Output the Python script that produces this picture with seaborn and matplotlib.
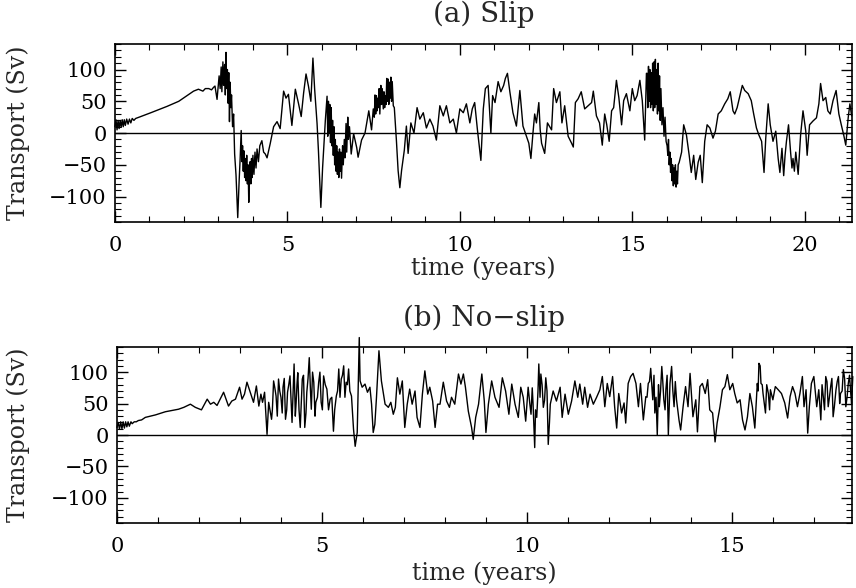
import numpy as np
import pandas as pd
import matplotlib
matplotlib.use("Agg")
import matplotlib.pyplot as plt
import seaborn as sns
from matplotlib.ticker import MultipleLocator

# ---- (a) Slip : values ----
slip_t = [0.00, 0.03, 0.06, 0.09, 0.12, 0.15, 0.18, 0.21, 0.24, 0.27, 0.30, 0.34, 0.38, 0.42,
          0.46, 0.50, 0.55, 0.60, 0.70, 1.04, 1.51, 1.85, 2.28, 2.42, 2.55, 2.62, 2.72, 2.80,
          2.86, 2.90, 2.96, 3.02, 3.05, 3.08, 3.10, 3.13, 3.15, 3.18, 3.20, 3.22, 3.24, 3.26,
          3.28, 3.30, 3.32, 3.34, 3.36, 3.38, 3.41, 3.44, 3.47, 3.51, 3.56, 3.60, 3.63, 3.66,
          4.26, 4.31, 4.36, 4.41, 4.50, 4.60, 4.70, 4.79, 4.89, 4.96, 5.03, 5.13, 5.23,
          5.32, 5.40, 5.47, 5.54, 5.61, 5.68, 5.74, 5.79, 5.86, 5.90, 5.97, 6.02, 6.10,
          6.85, 6.92, 7.01, 7.05, 7.15, 7.25, 7.36, 7.44,
          8.16, 8.21, 8.26, 8.31, 8.39, 8.45, 8.50, 8.58, 8.67, 8.76, 8.84, 8.94, 9.03, 9.13, 9.22,
          9.32, 9.42, 9.52, 9.61, 9.71, 9.81, 9.90, 10.00, 10.10, 10.19, 10.29, 10.36, 10.43,
          10.51, 10.61, 10.68, 10.74, 10.82, 10.90, 10.95, 11.02, 11.11, 11.19, 11.27, 11.32,
          11.38, 11.45, 11.54, 11.64, 11.74, 11.83, 11.93, 12.00, 12.06, 12.12, 12.17, 12.22,
          12.29, 12.33, 12.37, 12.46, 12.54, 12.66, 12.72, 12.80, 12.90, 12.96, 13.04, 13.14,
          13.24, 13.29, 13.35, 13.43, 13.52, 13.62, 13.72, 13.82, 13.87, 13.96, 14.05, 14.13,
          14.20, 14.26, 14.33, 14.40, 14.46, 14.54, 14.61, 14.69, 14.75, 14.83, 14.93, 15.00,
          15.07, 15.14, 15.22, 15.29, 15.36, 15.41,
          16.43, 16.49, 16.57, 16.65, 16.71, 16.78, 16.84,
          16.91, 16.97, 17.03, 17.10, 17.17, 17.25, 17.34, 17.41, 17.49, 17.58, 17.68, 17.77,
          17.84, 17.92, 17.97, 18.04, 18.11, 18.19, 18.26, 18.36, 18.45, 18.52, 18.60, 18.67,
          18.75, 18.82, 18.87, 18.94, 19.00, 19.08, 19.16, 19.23, 19.28, 19.34, 19.39, 19.43,
          19.47, 19.53, 19.59, 19.63, 19.66, 19.70, 19.74, 19.81, 19.88, 19.95, 20.03, 20.07,
          20.14, 20.24, 20.34, 20.41, 20.46, 20.53, 20.61, 20.67, 20.74, 20.82, 20.91, 20.99,
          21.06, 21.13, 21.19, 21.26, 21.31, 21.36]
slip_v = [10, 21, 5, 20, 7, 20, 9, 21, 10, 21, 12, 22, 14, 22,
          16, 23, 20, 23, 25, 32, 42, 50, 66, 69, 66, 70, 70, 68,
          72, 74, 53, 90, 70, 104, 65, 112, 75, 108, 60, 127, 70, 100,
          47, 95, 18, 80, 40, 60, 10, 30, -33, -66, -133, -76, -40, 4,
          -12, -30, -33, -39, -17, 10, 18, 7, 66, 55, 61, 12, 69,
          47, 26, 63, 93, 74, 50, 118, 69, 15, -28, -117, -55, 20,
          -33, -1, -23, -38, -11, 0, 35, 5,
          -11, -59, -86, -59, -27, 11, -32, 16, 0, 40, 22, 32, 8, 22, 11,
          -11, 43, 27, 43, 16, 22, 0, 38, 32, 46, 16, 38, 48,
          5, -43, 38, 70, 75, 0, 59, 48, 81, 65, 75, 86,
          94, 65, 32, 11, 67, 11, -5, -16, -40, 0, 30, 16,
          48, 5, -16, -32, 16, 5, 70, 48, 65, 16, 43, -5,
          -16, -22, 48, 54, 65, 38, 43, 48, 66, 27, 16, -19,
          30, 13, -13, 35, 40, 83, 56, 13, 51, 62, 35, 70,
          51, 59, 83, 51, -11, 94,
          -30, 13, -3, -35, -62, -35, -73,
          -46, -35, -78, -13, 13, 8, -8, 3, 30, 35, 46, 54,
          65, 35, 30, 40, 56, 75, 67, 62, 51, 30, 8, -3,
          -13, -62, -8, 46, 13, -13, 3, -40, -62, -24, -67, -35,
          -13, 13, -30, -55, -40, -60, -30, -65, -3, 35, 3, -35,
          13, 19, 24, 46, 78, 51, 56, 35, 30, 51, 67, 30,
          13, -3, -19, 24, 46, 27]

# dense (fast-oscillation) stretches of (a), read at finer spacing
slip_band_t = [3.68, 3.70, 3.72, 3.74, 3.76, 3.78, 3.80, 3.82, 3.84, 3.86, 3.88, 3.90, 3.92,
               3.94, 3.96, 3.98, 4.00, 4.03, 4.06, 4.09, 4.12, 4.16, 4.20,
               6.15, 6.17, 6.19, 6.21, 6.23, 6.25, 6.27, 6.29, 6.31, 6.33, 6.35, 6.37, 6.39,
               6.41, 6.43, 6.45, 6.47, 6.49, 6.51, 6.53, 6.55, 6.57, 6.60, 6.62, 6.65, 6.67,
               6.70, 6.72, 6.75, 6.77, 6.80,
               7.49, 7.52, 7.54, 7.56, 7.58, 7.60, 7.62, 7.64, 7.66, 7.68, 7.71, 7.73, 7.75,
               7.78, 7.80, 7.82, 7.84, 7.86, 7.88, 7.90, 7.92, 7.94, 7.96, 7.98, 8.00, 8.02,
               8.04, 8.07, 8.10,
               15.43, 15.45, 15.47, 15.49, 15.51, 15.53, 15.55, 15.57, 15.59, 15.61, 15.63,
               15.65, 15.67, 15.69, 15.71, 15.73, 15.75, 15.77, 15.79, 15.81, 15.83, 15.86,
               15.89, 15.92, 15.95, 15.98, 16.01, 16.03, 16.05, 16.07, 16.09, 16.11, 16.13,
               16.15, 16.17, 16.19, 16.21, 16.23, 16.25, 16.27, 16.29, 16.31, 16.33, 16.36]
slip_band_v = [-45, -20, -60, -28, -70, -40, -75, -35, -80, -50, -109, -60, -45,
               -80, -40, -70, -35, -65, -30, -55, -25, -45, -20,
               58, -5, 50, 0, 45, -15, 40, -20, 20, -35, 10, -50, -10,
               -60, -20, -65, -30, -70, -25, -60, -30, -71, -20, -50, -10, -39,
               15, -30, 25, -10, 10,
               38, 25, 60, 30, 59, 35, 55, 40, 70, 30, 75, 45, 70,
               38, 65, 40, 59, 45, 86, 50, 85, 45, 80, 55, 88, 50,
               81, 43, 40,
               94, 40, 105, 50, 100, 40, 95, 45, 110, 35, 112,
               40, 116, 45, 100, 30, 110, 35, 90, 20, 70, 13,
               40, -5, 25, -13, -20, -35, -10, -50, -30, -62, -40,
               -75, -50, -83, -55, -80, -50, -85, -60, -80, -50, -46]

# ---- (b) No-slip : values ----
noslip_t = [0.00, 0.03, 0.06, 0.09, 0.12, 0.15, 0.18, 0.21, 0.24, 0.27, 0.30, 0.34, 0.37, 0.42,
            0.47, 0.52, 0.60, 0.69, 0.94, 1.18, 1.50, 1.63, 1.79, 1.91, 2.06, 2.20, 2.28, 2.36,
            2.44, 2.60, 2.72, 2.80, 2.89, 2.99, 3.05, 3.11, 3.17, 3.25, 3.33, 3.40, 3.46, 3.51,
            3.55, 3.60, 3.66, 3.70, 3.77, 3.82, 3.88, 3.94, 4.00, 4.05, 4.11, 4.16, 4.22, 4.27,
            4.32, 4.37, 4.41, 4.47, 4.52, 4.58, 4.63, 4.69, 4.74, 4.80, 4.85, 4.92, 4.98, 5.04,
            5.12, 5.20, 5.28, 5.35, 5.41, 5.47, 5.53, 5.59, 5.65, 5.72, 5.77, 5.81, 5.86, 5.91,
            5.93, 5.98, 6.05, 6.11, 6.17, 6.21, 6.25, 6.29, 6.33, 6.39, 6.45, 6.54, 6.62, 6.68,
            6.74, 6.79, 6.84, 6.90, 6.96, 7.02, 7.08, 7.14, 7.20, 7.27, 7.32, 7.39, 7.45, 7.51,
            7.58, 7.63, 7.70, 7.76, 7.82, 7.88, 7.96, 8.04, 8.11, 8.16, 8.24, 8.33, 8.39, 8.45,
            8.50, 8.57, 8.65, 8.69, 8.75, 8.82, 8.90, 8.96, 9.00, 9.06, 9.14, 9.22, 9.32, 9.40,
            9.48, 9.56, 9.63, 9.71, 9.79, 9.85, 9.91, 9.97, 10.03, 10.10, 10.15, 10.19, 10.24,
            10.29, 10.34, 10.40, 10.46, 10.52, 10.57, 10.64, 10.72, 10.81, 10.86, 10.93, 11.01,
            11.09, 11.17, 11.24, 11.29, 11.36, 11.41, 11.48, 11.54, 11.62, 11.70, 11.78, 11.84,
            11.90, 11.96, 12.02, 12.09, 12.14, 12.19, 12.24, 12.31, 12.37, 12.41, 12.47, 12.53,
            12.59, 12.66, 12.72, 12.77, 12.84, 12.90, 12.96, 13.02, 13.07, 13.12, 13.18, 13.23,
            13.29, 13.34, 13.39, 13.45, 13.49, 13.53, 13.59, 13.65, 13.71, 13.75, 13.81, 13.87,
            13.93, 13.98, 14.05, 14.12, 14.16, 14.22, 14.28, 14.35, 14.41, 14.46, 14.53, 14.59,
            14.64, 14.71, 14.77, 14.83, 14.89, 14.95, 15.02, 15.07, 15.13, 15.20, 15.26, 15.32,
            15.38, 15.44, 15.50, 15.56, 15.62, 15.66, 15.71, 15.76, 15.82, 15.89, 15.94, 16.00,
            16.06, 16.13, 16.21, 16.29, 16.36, 16.42, 16.48, 16.54, 16.60, 16.66, 16.72, 16.76,
            16.81, 16.85, 16.89, 16.94, 17.00, 17.07, 17.12, 17.17, 17.23, 17.29, 17.35, 17.41,
            17.47, 17.54, 17.60, 17.65, 17.72, 17.78, 17.84, 17.90, 17.95]
noslip_v = [12, 20, 9, 21, 10, 21, 11, 21, 13, 21, 14, 21, 18, 21,
            21, 23, 24, 28, 32, 37, 41, 44, 49, 44, 40, 57, 49, 52,
            47, 68, 46, 54, 57, 76, 57, 65, 84, 68, 52, 78, 46, 65,
            52, 68, 1, 52, 25, 86, 62, 89, 60, 76, 25, 68, 94, 20,
            113, 52, 99, 12, 89, 12, 68, 123, 41, 84, 52, 84, 52, 94,
            73, 57, 6, 62, 105, 89, 110, 84, 105, 62, 9, -18, 4, 155,
            86, 76, 81, 68, 76, 49, 4, 17, 60, 134, 86, 49, 44, 52,
            33, 44, 91, 65, 86, 12, 49, 73, 49, 70, 28, 12, 65, 102,
            65, 76, 54, 12, 49, 49, 84, 54, 44, 60, 49, 97, 81, 97,
            76, 38, 12, -7, 28, 49, 97, 54, 4, 49, 86, 60, 44, 91,
            70, 33, 81, 49, 28, 76, 60, 22, 76, 33, 49, -20, 28,
            113, 97, 44, 91, -15, 49, 70, 54, 76, 28, 65, 33,
            54, 86, 60, 81, 49, 76, 44, 65, 49, 60, 72, 93,
            45, 82, 61, 93, 45, 11, 66, 35, 51, 19, 82, 93,
            98, 82, 45, 82, 24, 61, 82, 106, 56, 35, 0, 45,
            109, 56, 72, 0, 82, 109, 45, 56, 24, 8, 45, 77,
            45, 98, 29, 56, 5, 77, 82, 66, 88, 40, 35, -11,
            19, 45, 72, 77, 96, 72, 82, 66, 51, 56, 24, 8,
            29, 66, 45, 11, 82, 114, 82, 66, 35, 66, 72, 56,
            77, 72, 66, 51, 27, 61, 77, 66, 45, 66, 93, 45,
            72, 3, 45, 82, 93, 45, 72, 24, 61, 93, 45, 77,
            29, 72, 93, 66, 104, 45, 82, 66, 93]

# dense stretches of (b), read at finer spacing
noslip_band_t = [3.79, 3.85, 3.91, 3.97, 4.03, 4.08, 4.14, 4.19, 4.25, 4.30, 4.35, 4.39, 4.44,
                 4.50, 4.55, 4.61, 4.66, 4.72, 4.77, 4.83, 4.89, 4.95, 5.01, 5.08, 5.16, 5.24,
                 5.31, 5.38, 5.44, 5.50, 5.56, 5.62, 5.68,
                 10.07, 10.13, 10.21, 10.27, 10.32, 10.37, 10.43, 10.49, 10.55,
                 12.93, 12.99, 13.05, 13.10, 13.15, 13.21, 13.26, 13.31, 13.37, 13.42, 13.47,
                 13.51, 13.56, 13.62,
                 15.64, 15.69, 15.74, 15.79, 15.85, 15.92,
                 17.20, 17.26, 17.32, 17.38, 17.44, 17.50, 17.57, 17.63, 17.69, 17.75, 17.81,
                 17.87, 17.92]
noslip_band_v = [40, 75, 30, 70, 35, 90, 40, 80, 50, 75, 30, 80, 40,
                 60, 95, 35, 90, 70, 100, 30, 60, 100, 40, 80, 40, 60,
                 40, 70, 60, 95, 60, 80, 70,
                 50, 75, 40, 70, 60, 80, 55, 70, 20,
                 60, 85, 75, 95, 60, 80, 70, 90, 40, 95, 40,
                 95, 70, 85,
                 70, 110, 80, 50, 80, 40,
                 80, 40, 85, 60, 90, 45, 85, 50, 70, 90, 60,
                 95, 50]

slip = pd.DataFrame({"time": slip_t + slip_band_t,
                     "transport": slip_v + slip_band_v}).sort_values("time")
noslip = pd.DataFrame({"time": noslip_t + noslip_band_t,
                       "transport": noslip_v + noslip_band_v}).sort_values("time")

sns.set_theme(style="ticks")
plt.rcParams["font.family"] = ["DejaVu Serif"]
plt.rcParams["axes.linewidth"] = 1.2

fig = plt.figure(figsize=(8.56, 5.88), dpi=100)
ax_a = fig.add_axes([0.1343, 0.6224, 0.861, 0.3026])
ax_b = fig.add_axes([0.1367, 0.1105, 0.8586, 0.2994])

panels = [
    (ax_a, slip, "(a) Slip", 21.37, -0.258, -0.131),
    (ax_b, noslip, "(b) No\u2212slip", 17.93, -0.284, -0.134),
]

for ax, df, title, xmax, xlab_y, ylab_x in panels:
    sns.lineplot(data=df, x="time", y="transport", ax=ax, color="black",
                 linewidth=1.0, sort=False, estimator=None, clip_on=False)
    ax.axhline(0, color="black", linewidth=1.0)
    ax.set_xlim(0, xmax)
    ax.set_ylim(-140, 140)
    ax.text(0.5, 1.165, title, transform=ax.transAxes, ha="center", va="center",
            fontsize=20)
    ax.set_xlabel("time (years)", fontsize=17, va="center")
    ax.set_ylabel("Transport (Sv)", fontsize=17, va="center")
    ax.xaxis.set_label_coords(0.5, xlab_y)
    ax.yaxis.set_label_coords(ylab_x, 0.5)
    ax.xaxis.set_major_locator(MultipleLocator(5))
    ax.xaxis.set_minor_locator(MultipleLocator(1))
    ax.yaxis.set_minor_locator(MultipleLocator(10))
    ax.tick_params(which="both", direction="in", top=True, right=True,
                   labelsize=15, colors="black")
    ax.tick_params(which="major", length=8, width=1)
    ax.tick_params(which="minor", length=4, width=0.8)
    ax.tick_params(axis="x", pad=10)
    ax.tick_params(axis="y", pad=6)
    ax.set_yticks([-100, -50, 0, 50, 100])
    ax.set_yticklabels(["\u2212100", "\u221250", "0", "50", "100"])
    for s in ax.spines.values():
        s.set_color("black")

fig.savefig("out.png", dpi=100)
